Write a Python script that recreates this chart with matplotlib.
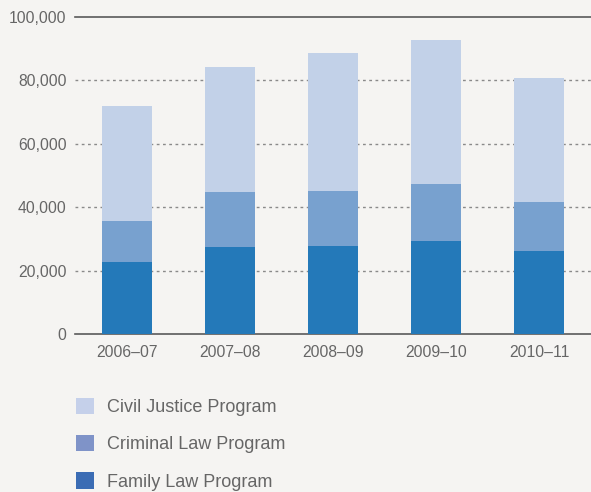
import numpy as np
import matplotlib
matplotlib.use("Agg")
import matplotlib.pyplot as plt
from matplotlib.patches import Patch

# data
years = ["2006–07", "2007–08", "2008–09", "2009–10", "2010–11"]
family = [22800, 27500, 27900, 29400, 26300]
criminal = [12900, 17300, 17300, 18000, 15400]
civil = [36300, 39500, 43500, 45400, 39200]
series_names = ["Civil Justice Program", "Criminal Law Program", "Family Law Program"]

bg = "#f5f4f2"
txt = "#666666"
c_family = "#2479b9"
c_criminal = "#78a1cf"
c_civil = "#c2d1e8"
# legend swatches are a touch different in the reference
leg_colors = ["#c5d0ea", "#7f93c8", "#3b6cb4"]

plt.rcParams["font.family"] = ["Liberation Sans", "DejaVu Sans"]

fig = plt.figure(figsize=(5.91, 4.92), dpi=100, facecolor=bg)
ax = fig.add_axes([75 / 591, 1 - 334.3 / 492, 1 - 75 / 591, (334.3 - 17) / 492])
ax.set_facecolor(bg)

x = np.arange(len(years))
w = 0.485
bottom2 = np.array(family)
bottom3 = bottom2 + np.array(criminal)
ax.bar(x, family, w, color=c_family, zorder=3)
ax.bar(x, criminal, w, bottom=bottom2, color=c_criminal, zorder=3)
ax.bar(x, civil, w, bottom=bottom3, color=c_civil, zorder=3)

ax.set_xlim(-0.5, 4.5)
ax.set_ylim(0, 100000)
ax.set_yticks([0, 20000, 40000, 60000, 80000, 100000])
ax.set_yticklabels(["0", "20,000", "40,000", "60,000", "80,000", "100,000"])
ax.set_xticks(x)
ax.set_xticklabels(years)

for s in ["left", "right", "top"]:
    ax.spines[s].set_visible(False)
ax.spines["bottom"].set_color("#5a5a5a")
ax.spines["bottom"].set_linewidth(1.2)
ax.axhline(100000, color="#5a5a5a", lw=1.2, zorder=4, clip_on=False)
for yv in [20000, 40000, 60000, 80000]:
    ax.axhline(yv, color="#8a8a8a", lw=1, ls=(0, (2, 2.5)), zorder=1)

ax.tick_params(axis="both", length=0, labelsize=11.3, colors=txt)
ax.tick_params(axis="y", pad=6)
ax.tick_params(axis="x", pad=8)

handles = [Patch(facecolor=c, edgecolor="none") for c in leg_colors]
fig.legend(handles, series_names, loc="upper left",
           bbox_to_anchor=(76 / 591, 1 - 398 / 492), frameon=False,
           fontsize=13, labelcolor=txt, borderpad=0, borderaxespad=0,
           handlelength=1.0, handleheight=1.0, handletextpad=0.7,
           labelspacing=1.05)

fig.savefig("out.png", dpi=100, facecolor=bg)
